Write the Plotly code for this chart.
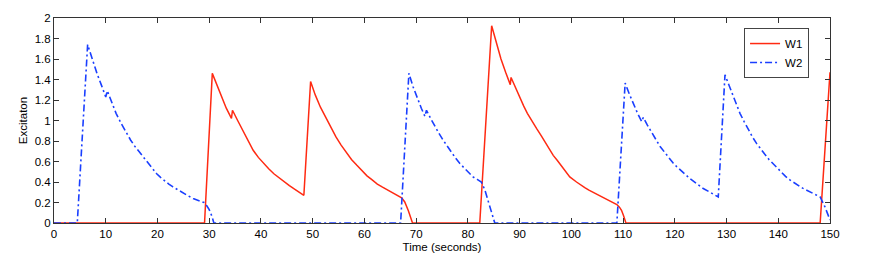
import plotly.graph_objects as go

# W1 (red, solid)
w1_t = [0, 29.1, 30.6, 31.5, 32.4, 33.3, 34.3, 34.5, 35.5, 36.5, 37.5, 38.5, 39.5, 40.5,
        41.5, 42.5, 43.5, 44.5, 45.5, 46.5, 47.4, 48.3,
        49.6, 50.5, 51.5, 52.5, 53.5, 54.5, 55.5, 56.5, 57.5, 58.5, 59.5, 60.5, 61.5, 62.5,
        63.5, 64.5, 65.5, 66.4, 67.2, 67.8, 68.5, 69.3,
        82.3, 84.6, 85.5, 86.4, 87.3, 88.2, 88.35, 89.2, 90.05, 90.8, 91.5, 92.4, 93.3, 94.2,
        95.0, 95.8, 96.5, 97.3, 98.0, 98.8, 99.7, 101.0, 101.8,
        102.6, 103.4, 104.2, 105.0, 105.9, 106.7, 107.5, 108.8, 109.3, 109.7, 110.1, 110.55,
        148.1, 150]
w1_v = [0, 0, 1.46, 1.34, 1.23, 1.12, 1.02, 1.10, 1.00, 0.90, 0.80, 0.71, 0.64, 0.58,
        0.53, 0.48, 0.44, 0.40, 0.365, 0.33, 0.30, 0.27,
        1.38, 1.25, 1.13, 1.03, 0.93, 0.84, 0.76, 0.69, 0.62, 0.565, 0.51, 0.46, 0.42, 0.38,
        0.35, 0.32, 0.29, 0.265, 0.245, 0.205, 0.12, 0,
        0, 1.925, 1.76, 1.60, 1.47, 1.35, 1.42, 1.32, 1.22, 1.14, 1.07, 0.99, 0.92, 0.85,
        0.78, 0.72, 0.66, 0.61, 0.56, 0.51, 0.45, 0.40, 0.37,
        0.345, 0.32, 0.30, 0.275, 0.255, 0.235, 0.22, 0.18, 0.155, 0.124, 0.07, 0,
        0, 1.47]

# W2 (blue, dash-dot)
w2_t = [0, 4.5, 6.5, 7.4, 8.3, 9.2, 10.0, 10.3, 11.1, 12.0, 13.0, 14.0, 14.8, 15.6, 16.4,
        17.2, 18.5, 19.8, 20.6, 21.4, 22.2, 23.0, 24.0, 25.0, 26.0,
        26.9, 28.0, 29.0, 29.5, 30.0, 30.5, 30.9,
        67.0, 68.6, 69.4, 70.2, 71.0, 71.7, 72.0, 72.8, 73.6, 74.4, 75.2, 76.0, 76.8, 77.6,
        78.45, 79.2, 80.0, 81.0, 81.8, 82.6, 83.3, 83.9, 84.6, 85.2,
        108.8, 110.4, 111.2, 112.0, 112.8, 113.6, 113.9, 114.7, 115.5, 116.4, 117.2,
        118.0, 118.8, 119.6, 120.4, 121.6, 122.9, 124.2, 125.5, 127.0, 128.4,
        129.7, 130.5, 131.2, 131.9, 132.6, 133.4, 134.2, 135.0, 135.8, 136.6, 137.4, 138.2,
        139.0, 139.8, 140.6, 141.4, 142.3, 143.1, 143.9, 144.7, 145.5, 146.8, 148.1, 149.0,
        150]
w2_v = [0, 0, 1.74, 1.59, 1.46, 1.34, 1.23, 1.29, 1.18, 1.07, 0.97, 0.875, 0.81, 0.75, 0.70,
        0.646, 0.56, 0.483, 0.445, 0.41, 0.38, 0.352, 0.32, 0.29, 0.263,
        0.239, 0.22, 0.20, 0.17, 0.13, 0.07, 0,
        0, 1.46, 1.33, 1.22, 1.12, 1.04, 1.10, 1.02, 0.94, 0.875, 0.81, 0.75, 0.69, 0.635,
        0.58, 0.54, 0.50, 0.45, 0.425, 0.40, 0.32, 0.22, 0.11, 0,
        0, 1.365, 1.26, 1.16, 1.07, 0.99, 1.03, 0.955, 0.88, 0.81, 0.744,
        0.69, 0.64, 0.59, 0.548, 0.49, 0.434, 0.385, 0.337, 0.295, 0.254,
        1.445, 1.34, 1.24, 1.15, 1.07, 0.99, 0.91, 0.84, 0.777, 0.72, 0.67, 0.62,
        0.58, 0.53, 0.49, 0.455, 0.418, 0.39, 0.365, 0.34, 0.32, 0.285, 0.254, 0.16,
        0.03]

x_ticks = list(range(0, 151, 10))
y_ticks = [0, 0.2, 0.4, 0.6, 0.8, 1, 1.2, 1.4, 1.6, 1.8, 2]
y_tick_text = ["0", "0.2", "0.4", "0.6", "0.8", "1", "1.2", "1.4", "1.6", "1.8", "2"]

font = "Liberation Sans, Arial, Helvetica, sans-serif"

fig = go.Figure()
fig.add_trace(go.Scatter(x=w1_t, y=w1_v, mode="lines", name="W1",
                         line=dict(color="#ff2a12", width=1.5)))
fig.add_trace(go.Scatter(x=w2_t, y=w2_v, mode="lines", name="W2",
                         line=dict(color="#1a3fff", width=1.6, dash="7px,3px,2px,3px")))

axis_common = dict(showline=True, linecolor="#333", linewidth=1, mirror="ticks",
                   ticks="inside", ticklen=5, tickcolor="#333", showgrid=False,
                   zeroline=False, automargin=False,
                   tickfont=dict(family=font, size=11.5, color="#000"))

# the page body has an 8px default margin, so the figure is sized to fit the window
fig.update_layout(
    width=877, height=246,
    margin=dict(l=46, r=55, t=10, b=31),
    paper_bgcolor="white", plot_bgcolor="white",
    font=dict(family=font, size=11.5, color="#000"),
    xaxis=dict(range=[0, 150], tickvals=x_ticks, **axis_common,
               title=dict(text="Time (seconds)", font=dict(family=font, size=11.5), standoff=4)),
    yaxis=dict(range=[0, 2], tickvals=y_ticks, ticktext=y_tick_text, **axis_common,
               title=dict(text="Excitaton", font=dict(family=font, size=11.5), standoff=4)),
    legend=dict(x=0.973, y=0.951, xanchor="right", yanchor="top",
                bgcolor="white", bordercolor="#444", borderwidth=1,
                font=dict(family=font, size=11.5), tracegroupgap=0),
    showlegend=True,
)

fig.write_html("out.html")
